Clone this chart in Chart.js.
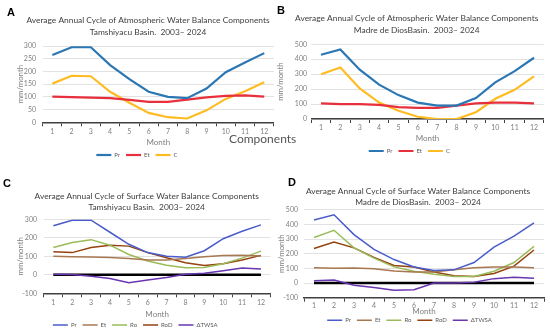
<!DOCTYPE html>
<html>
<head>
<meta charset="utf-8">
<script src="https://cdn.jsdelivr.net/npm/chart.js@4.4.1/dist/chart.umd.min.js"></script>
<style>
  body { margin: 0; background: #fff; width: 550px; height: 332px; position: relative; overflow: hidden; }
  canvas { position: absolute; }
  .tag { position: absolute; font-family: Arial, "Liberation Sans", sans-serif; font-weight: bold; font-size: 11px; color: #000; }
  #comp { position: absolute; left: 229px; top: 131px; font-family: Lato, sans-serif; font-size: 12px; color: #555; }
</style>
</head>
<body>
<canvas id="cA" width="275" height="166" style="left:0;top:0"></canvas>
<canvas id="cB" width="275" height="166" style="left:275px;top:0"></canvas>
<canvas id="cC" width="275" height="166" style="left:0;top:166px"></canvas>
<canvas id="cD" width="275" height="166" style="left:275px;top:166px"></canvas>
<div class="tag" style="left:7px;top:6px">A</div>
<div class="tag" style="left:277px;top:4px">B</div>
<div class="tag" style="left:3px;top:177px">C</div>
<div class="tag" style="left:288px;top:176px">D</div>
<div id="comp">Components</div>
<script>
const months = ['1', '2', '3', '4', '5', '6', '7', '8', '9', '10', '11', '12'];

// A - atmospheric, Tamshiyacu
const prA = [265, 295, 295, 225, 170, 120, 100, 95, 133, 197, 235, 272];
const etA = [101, 99, 97, 95, 88, 80, 80, 89, 98, 104, 106, 101];
const cA = [152, 183, 181, 120, 77, 37, 20, 15, 47, 92, 122, 157];

// B - atmospheric, Madre de Dios
const prB = [430, 465, 330, 230, 160, 110, 90, 90, 140, 245, 320, 410];
const etB = [105, 100, 100, 95, 80, 75, 75, 90, 105, 110, 110, 105];
const cB = [300, 345, 205, 110, 55, 15, 0, 0, 45, 135, 195, 285];

// C - surface, Tamshiyacu
const prC = [265, 295, 295, 230, 165, 120, 100, 95, 130, 195, 235, 270];
const etC = [100, 98, 96, 94, 88, 80, 80, 88, 98, 104, 106, 102];
const roC = [148, 175, 190, 160, 110, 75, 52, 38, 40, 60, 90, 128];
const rodC = [125, 120, 148, 160, 155, 120, 92, 65, 50, 60, 80, 105];
const twsaC = [3, 2, -8, -20, -43, -28, -15, 3, 8, 22, 37, 32];

// D - surface, Madre de Dios
const prD = [430, 465, 330, 230, 160, 110, 85, 90, 140, 245, 320, 410];
const etD = [105, 100, 103, 97, 82, 75, 75, 90, 105, 110, 110, 105];
const roD = [310, 360, 240, 170, 110, 80, 60, 45, 45, 80, 140, 250];
const rodD = [235, 280, 240, 175, 120, 110, 75, 50, 45, 65, 115, 225];
const twsaD = [15, 20, -15, -30, -50, -45, 0, 0, 5, 30, 40, 32];

const zeroLine = [0, 0, 0, 0, 0, 0, 0, 0, 0, 0, 0, 0];

const FONT = 'Lato, "Open Sans", sans-serif';

// two-line panel title, centred where the original has it
const panelTitle = {
    id: 'panelTitle',
    afterDraw(chart, args, opts) {
        const ctx = chart.ctx;
        ctx.save();
        ctx.font = '8.4px ' + FONT;
        ctx.fillStyle = '#404040';
        ctx.textAlign = 'center';
        ctx.textBaseline = 'middle';
        opts.lines.forEach((t, i) => ctx.fillText(t, opts.x, opts.y + i * opts.step));
        ctx.restore();
    }
};

function line(label, data, color, w) {
    return { label: label, data: data, borderColor: color, backgroundColor: color,
             borderWidth: w, pointRadius: 0, tension: 0, fill: false };
}

// p = pixel layout of each panel
function makeChart(id, title, datasets, yMin, yMax, yStep, p) {
    const W = 275, H = 166;
    const legTop = p.leg - 9;
    new Chart(document.getElementById(id), {
        type: 'line',
        data: { labels: months, datasets: datasets },
        plugins: [panelTitle],
        options: {
            responsive: false,
            animation: false,
            layout: { padding: { left: 0, right: W - p.right, top: p.top, bottom: H - p.leg - 13 } },
            plugins: {
                panelTitle: { lines: title, x: p.tx, y: p.t1, step: p.tls },
                title: { display: false },
                legend: {
                    position: 'bottom',
                    labels: {
                        usePointStyle: true, pointStyle: 'line', pointStyleWidth: 15,
                        font: { family: FONT, size: 6 }, color: '#595959', padding: 6,
                        filter: item => item.text !== '0'
                    }
                },
                tooltip: { enabled: false }
            },
            scales: {
                x: {
                    offset: true,
                    afterFit: s => { s.height = legTop - p.bottom; },
                    grid: { offset: true, drawOnChartArea: false, color: '#404040', tickLength: 4, tickWidth: 1 },
                    border: { color: '#404040', width: 1.5 },
                    ticks: { color: '#808080', font: { family: FONT, size: 7 }, padding: p.xpad, maxRotation: 0 },
                    title: { display: true, text: 'Month', color: '#808080',
                             font: { family: FONT, size: 8 }, padding: { top: 0, bottom: legTop - p.mon - 4.8 } }
                },
                y: {
                    min: yMin, max: yMax,
                    afterFit: s => { s.width = p.left; },
                    grid: { color: '#e2e2e2', drawTicks: false },
                    border: { display: false },
                    ticks: { stepSize: yStep, color: '#808080', font: { family: FONT, size: 7 }, padding: p.ypad },
                    title: { display: true, text: 'mm/month', color: '#808080',
                             font: { family: FONT, size: 7.8 }, padding: { top: p.ytx - 4.7, bottom: 0 } }
                }
            }
        }
    });
}

const t1 = ['Average Annual Cycle of Atmospheric Water Balance Components', 'Tamshiyacu Basin.  2003\u2013 2024'];
const t2 = ['Average Annual Cycle of Atmospheric Water Balance Components', 'Madre de DiosBasin.  2003\u2013 2024'];
const t3 = ['Average Annual Cycle of Surface Water Balance Components', 'Tamshiyacu Basin.  2003\u2013 2024'];
const t4 = ['Average Annual Cycle of Surface Water Balance Components', 'Madre de DiosBasin.  2003\u2013 2024'];

makeChart('cA', t1, [
    line('Pr', prA, '#2a77b4', 2.2),
    line('Et', etA, '#e8303c', 2.2),
    line('C', cA, '#ffbb22', 2.2)
], 0, 300, 50,
{ top: 46, bottom: 122.3, left: 42.7, right: 273.9, tx: 148, t1: 20.7, tls: 11.6, mon: 142.7, leg: 155, xpad: 1, ypad: 6.7, ytx: 20 });

makeChart('cB', t2, [
    line('Pr', prB, '#2a77b4', 2.2),
    line('Et', etB, '#e8303c', 2.2),
    line('C', cB, '#ffbb22', 2.2)
], 0, 500, 100,
{ top: 44.3, bottom: 119, left: 36.3, right: 268.7, tx: 141.7, t1: 18.3, tls: 11.7, mon: 138.3, leg: 151, xpad: 1, ypad: 4.3, ytx: 5 });

makeChart('cC', t3, [
    line('Pr', prC, '#4a5cc9', 1.5),
    line('Et', etC, '#a87850', 1.5),
    line('Ro', roC, '#9bbb59', 1.5),
    line('RoD', rodC, '#94420f', 1.5),
    line('\u0394TWSA', twsaC, '#6a35b0', 1.5),
    line('0', zeroLine, '#000000', 2.5)
], -100, 300, 100,
{ top: 53.3, bottom: 127.3, left: 43.9, right: 270.4, tx: 146.7, t1: 30, tls: 11, mon: 148, leg: 159, xpad: 1, ypad: 6.9, ytx: 20 });

makeChart('cD', t4, [
    line('Pr', prD, '#4a5cc9', 1.5),
    line('Et', etD, '#a87850', 1.5),
    line('Ro', roD, '#9bbb59', 1.5),
    line('RoD', rodD, '#94420f', 1.5),
    line('\u0394TWSA', twsaD, '#6a35b0', 1.5),
    line('0', zeroLine, '#000000', 2.5)
], -100, 500, 100,
{ top: 43.7, bottom: 131.7, left: 29, right: 269, tx: 143, t1: 25.7, tls: 11, mon: 145.7, leg: 154.3, xpad: 0, ypad: 6, ytx: 6 });
</script>
</body>
</html>
